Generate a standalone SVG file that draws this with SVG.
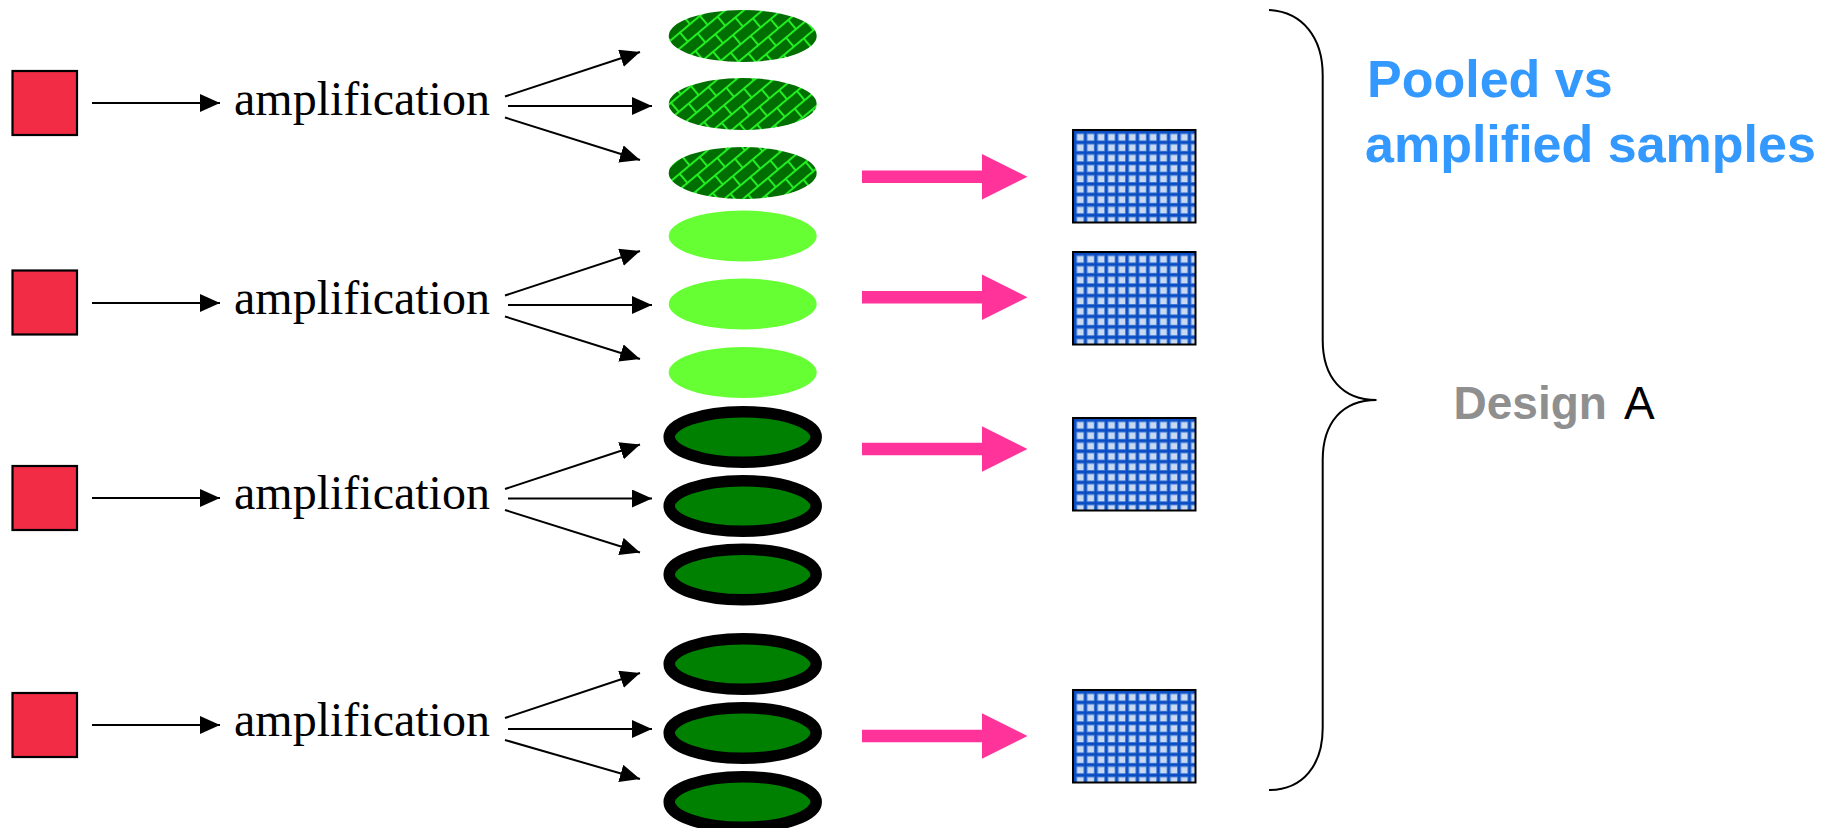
<svg xmlns="http://www.w3.org/2000/svg" width="1828" height="828" viewBox="0 0 1828 828">
<style>
.sq{fill:#f22c44;stroke:#000;stroke-width:2.2}
.amp{font-family:"Liberation Serif","Times New Roman",serif;font-size:48px;fill:#000}
.ln{stroke:#000;stroke-width:2;fill:none}
.pat{fill:url(#brick)}
.lite{fill:#66ff33}
.ring{fill:#008000;stroke:#000;stroke-width:11.5}
.pink{fill:#ff3399}
.chip{fill:url(#grid);stroke:#000;stroke-width:2}
.blue{font-family:"Liberation Sans",Arial,sans-serif;font-weight:bold;font-size:52px;fill:#3399ff}
.des{font-family:"Liberation Sans",Arial,sans-serif;font-size:46px}
</style>
<defs>
<marker id="ah" markerUnits="userSpaceOnUse" markerWidth="20" markerHeight="18" refX="20" refY="9" orient="auto">
<path d="M0,0 L20,9 L0,18 Z" fill="#000"/>
</marker>
<pattern id="brick" patternUnits="userSpaceOnUse" width="26" height="24" patternTransform="rotate(-40)">
<rect width="26" height="24" fill="#006e00"/>
<path d="M0,6H26 M0,18H26 M6,6V18 M19,18V24 M19,0V6" stroke="#22ee22" stroke-width="2"/>
</pattern>
<pattern id="grid" patternUnits="userSpaceOnUse" x="0" y="0" width="10.4" height="10.4">
<rect width="10.4" height="10.4" fill="#c9d9f2"/>
<path d="M2,0V10.4 M0,2H10.4" stroke="#5288d6" stroke-width="4.4"/>
<path d="M2,0V10.4 M0,2H10.4" stroke="#0a4cc4" stroke-width="2.4"/>
</pattern>
</defs>
<rect width="1828" height="828" fill="#fff"/>

<g id="sample1"><rect class="sq" x="12.5" y="71" width="64.5" height="64"/></g>
<g id="sample2"><rect class="sq" x="12.5" y="270.5" width="64.5" height="64"/></g>
<g id="sample3"><rect class="sq" x="12.5" y="466" width="64.5" height="64"/></g>
<g id="sample4"><rect class="sq" x="12.5" y="693" width="64.5" height="64"/></g>

<g id="amp1"><text class="amp" x="234" y="115">amplification</text></g>
<g id="amp2"><text class="amp" x="234" y="314">amplification</text></g>
<g id="amp3"><text class="amp" x="234" y="509">amplification</text></g>
<g id="amp4"><text class="amp" x="234" y="736">amplification</text></g>

<g id="pool1">
<ellipse class="pat" cx="742.7" cy="36" rx="74" ry="26"/>
<ellipse class="pat" cx="742.7" cy="104" rx="74" ry="26"/>
<ellipse class="pat" cx="742.7" cy="173" rx="74" ry="26"/>
</g>
<g id="pool2">
<ellipse class="lite" cx="742.7" cy="236" rx="74" ry="25.5"/>
<ellipse class="lite" cx="742.7" cy="304" rx="74" ry="25.5"/>
<ellipse class="lite" cx="742.7" cy="372.5" rx="74" ry="25.5"/>
</g>
<g id="pool3">
<ellipse class="ring" cx="742.7" cy="437" rx="73.5" ry="25.3"/>
<ellipse class="ring" cx="742.7" cy="506" rx="73.5" ry="25.3"/>
<ellipse class="ring" cx="742.7" cy="574.5" rx="73.5" ry="25.3"/>
</g>
<g id="pool4">
<ellipse class="ring" cx="742.7" cy="664" rx="73.5" ry="25.3"/>
<ellipse class="ring" cx="742.7" cy="733" rx="73.5" ry="25.3"/>
<ellipse class="ring" cx="742.7" cy="802" rx="73.5" ry="25.3"/>
</g>

<g id="array1" transform="translate(1073,130)"><rect class="chip" width="122.5" height="92.5"/></g>
<g id="array2" transform="translate(1073,252)"><rect class="chip" width="122.5" height="92.5"/></g>
<g id="array3" transform="translate(1073,418)"><rect class="chip" width="122.5" height="92.5"/></g>
<g id="array4" transform="translate(1073,690)"><rect class="chip" width="122.5" height="92.5"/></g>

<g id="brace"><path class="ln" d="M1269,10 C1303,12 1322.7,38 1322.7,75 L1322.7,340 C1322.7,377 1342,400 1376.5,400 C1342,400 1322.7,423 1322.7,460 L1322.7,728 C1322.7,765 1303,790 1269,790"/></g>

<g id="title">
<text class="blue" x="1367" y="97">Pooled vs</text>
<text class="blue" x="1365" y="162">amplified samples</text>
</g>
<g id="design">
<text class="des" x="1453.5" y="418.5" font-weight="bold" fill="#8f8f8f">Design</text>
<text class="des" x="1624" y="418.5" fill="#000">A</text>
</g>

<g id="connectors">
<line class="ln" x1="92" y1="103" x2="220" y2="103" marker-end="url(#ah)"/>
<line class="ln" x1="505" y1="96.5" x2="640" y2="52" marker-end="url(#ah)"/>
<line class="ln" x1="508" y1="106" x2="652" y2="106" marker-end="url(#ah)"/>
<line class="ln" x1="505" y1="117.5" x2="640" y2="160" marker-end="url(#ah)"/>

<line class="ln" x1="92" y1="303" x2="220" y2="303" marker-end="url(#ah)"/>
<line class="ln" x1="505" y1="295.5" x2="640" y2="251" marker-end="url(#ah)"/>
<line class="ln" x1="508" y1="305" x2="652" y2="305" marker-end="url(#ah)"/>
<line class="ln" x1="505" y1="316.5" x2="640" y2="359" marker-end="url(#ah)"/>

<line class="ln" x1="92" y1="498" x2="220" y2="498" marker-end="url(#ah)"/>
<line class="ln" x1="505" y1="489" x2="640" y2="444.5" marker-end="url(#ah)"/>
<line class="ln" x1="508" y1="498.5" x2="652" y2="498.5" marker-end="url(#ah)"/>
<line class="ln" x1="505" y1="510" x2="640" y2="552.5" marker-end="url(#ah)"/>

<line class="ln" x1="92" y1="725" x2="220" y2="725" marker-end="url(#ah)"/>
<line class="ln" x1="505" y1="718" x2="640" y2="673" marker-end="url(#ah)"/>
<line class="ln" x1="508" y1="729" x2="652" y2="729" marker-end="url(#ah)"/>
<line class="ln" x1="505" y1="740" x2="640" y2="779" marker-end="url(#ah)"/>

<polygon class="pink" points="862,170.5 982,170.5 982,154 1027.5,176.7 982,199.4 982,182.9 862,182.9"/>
<polygon class="pink" points="862,291 982,291 982,274.5 1027.5,297.2 982,319.9 982,303.4 862,303.4"/>
<polygon class="pink" points="862,442.8 982,442.8 982,426.3 1027.5,449 982,471.7 982,455.2 862,455.2"/>
<polygon class="pink" points="862,729.8 982,729.8 982,713.3 1027.5,736 982,758.7 982,742.2 862,742.2"/>
</g>
</svg>
